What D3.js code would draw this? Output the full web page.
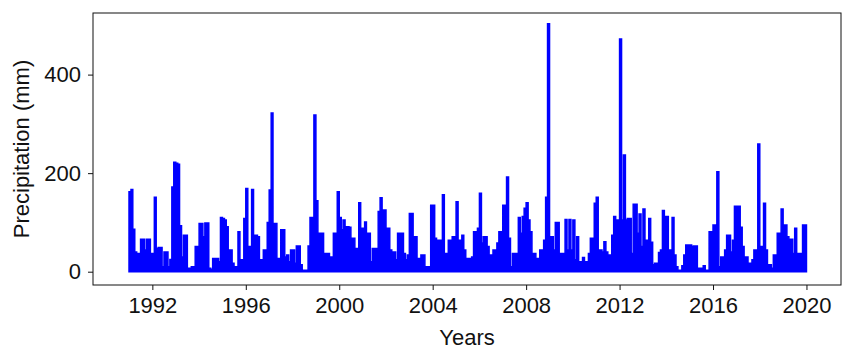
<!DOCTYPE html>
<html>
<head>
<meta charset="utf-8">
<script src="https://cdn.jsdelivr.net/npm/d3@7"></script>
<style>
  html, body { margin: 0; padding: 0; background: #fff; }
  svg text { font-family: "Liberation Sans", Arial, sans-serif; }
</style>
</head>
<body>
<div id="chart"></div>
<script>
// monthly precipitation (mm), Jan..Dec
const y1991 = [162, 167, 86, 40, 37, 37, 66, 66, 44, 66, 66, 37];
const y1992 = [37, 151, 47, 49, 49, 10, 40, 40, 10, 25, 172, 222];
const y1993 = [220, 218, 93, 30, 74, 74, 7, 7, 10, 10, 51, 51];
const y1994 = [98, 98, 71, 99, 99, 7, 5, 27, 27, 27, 20, 110];
const y1995 = [108, 105, 91, 44, 44, 17, 10, 10, 81, 24, 24, 108];
const y1996 = [169, 51, 51, 167, 74, 74, 71, 24, 24, 44, 44, 100];
const y1997 = [166, 322, 98, 98, 27, 27, 85, 85, 30, 34, 20, 44];
const y1998 = [44, 17, 52, 52, 14, 3, 3, 3, 52, 110, 110, 318];
const y1999 = [144, 78, 78, 78, 37, 37, 37, 30, 30, 78, 78, 162];
const y2000 = [110, 85, 105, 91, 91, 90, 68, 68, 47, 47, 140, 88];
const y2001 = [88, 101, 78, 78, 20, 47, 47, 47, 122, 150, 125, 125];
const y2002 = [88, 88, 44, 40, 40, 24, 78, 78, 78, 37, 24, 34];
const y2003 = [118, 118, 71, 71, 27, 27, 34, 34, 10, 10, 10, 135];
const y2004 = [135, 68, 64, 64, 64, 156, 37, 37, 64, 64, 71, 71];
const y2005 = [142, 64, 64, 74, 44, 27, 27, 27, 30, 81, 81, 88];
const y2006 = [159, 58, 71, 71, 51, 34, 34, 44, 44, 58, 81, 81];
const y2007 = [135, 135, 192, 68, 10, 37, 37, 37, 110, 78, 112, 129];
const y2008 = [140, 105, 81, 37, 37, 27, 27, 44, 44, 64, 151, 503];
const y2009 = [71, 71, 44, 100, 100, 37, 37, 37, 106, 44, 106, 44];
const y2010 = [105, 24, 71, 20, 20, 29, 20, 20, 37, 68, 68, 139];
const y2011 = [151, 44, 44, 40, 61, 40, 34, 34, 74, 112, 105, 105];
const y2012 = [472, 105, 237, 105, 108, 108, 37, 137, 137, 78, 117, 51];
const y2013 = [127, 64, 64, 108, 60, 14, 17, 17, 39, 44, 124, 112];
const y2014 = [112, 44, 44, 110, 34, 10, 3, 3, 12, 34, 54, 54];
const y2015 = [54, 51, 52, 52, 7, 7, 7, 12, 3, 3, 81, 81];
const y2016 = [95, 95, 203, 10, 30, 30, 44, 74, 74, 40, 64, 133];
const y2017 = [133, 133, 90, 51, 30, 30, 17, 17, 24, 44, 44, 259];
const y2018 = [51, 51, 139, 44, 14, 14, 7, 34, 34, 78, 78, 127];
const y2019 = [95, 95, 71, 66, 66, 37, 88, 37, 37, 37, 95, 95];

const years = d3.range(1991, 2020);
const monthly = [y1991, y1992, y1993, y1994, y1995, y1996, y1997, y1998, y1999, y2000,
                 y2001, y2002, y2003, y2004, y2005, y2006, y2007, y2008, y2009, y2010,
                 y2011, y2012, y2013, y2014, y2015, y2016, y2017, y2018, y2019];

const yTicks = [0, 200, 400];
const xTickYears = [1992, 1996, 2000, 2004, 2008, 2012, 2016, 2020];

(function(){
    const width = 850;
    const height = 362;
    const margin = {top: 13, right: 9, bottom: 77, left: 93};

    const svg = d3.select("#chart")
        .append("svg")
        .attr("width", width)
        .attr("height", height);

    // monthly points, plus a closing point so the last step has its width
    const series = [];
    years.forEach((yr, i) => {
        monthly[i].forEach((v, m) => series.push({date: new Date(yr, m, 1), value: v}));
    });
    series.push({date: new Date(2020, 0, 1), value: series[series.length - 1].value});

    const x = d3.scaleTime()
        .domain([new Date(1989, 5, 17), new Date(2021, 5, 24)])
        .range([margin.left, width - margin.right]);

    const y = d3.scaleLinear()
        .domain([-27, 525])
        .range([height - margin.bottom, margin.top]);

    const area = d3.area()
        .curve(d3.curveStepAfter)
        .x(d => x(d.date))
        .y0(y(0))
        .y1(d => y(d.value));

    svg.append("path")
        .datum(series)
        .attr("d", area)
        .attr("fill", "#0000ff")
        .attr("stroke", "#0000ff")
        .attr("stroke-width", 1.5);

    // axes
    const yAxis = svg.append("g")
        .attr("transform", `translate(${margin.left},0)`)
        .call(d3.axisLeft(y).tickValues(yTicks).tickSize(5).tickPadding(7));

    const xAxis = svg.append("g")
        .attr("transform", `translate(0,${height - margin.bottom})`)
        .call(d3.axisBottom(x)
            .tickValues(xTickYears.map(yr => new Date(yr, 0, 1)))
            .tickFormat(d3.timeFormat("%Y"))
            .tickSize(5).tickPadding(7));

    [xAxis, yAxis].forEach(g => {
        g.select(".domain").remove();
        g.selectAll(".tick line").attr("stroke", "#111").attr("stroke-width", 1);
        g.selectAll(".tick text").attr("fill", "#111").style("font-size", "22px");
    });

    // frame
    svg.append("rect")
        .attr("x", margin.left)
        .attr("y", margin.top)
        .attr("width", width - margin.left - margin.right)
        .attr("height", height - margin.top - margin.bottom)
        .attr("fill", "none")
        .attr("stroke", "#111")
        .attr("stroke-width", 1);

    // axis titles
    svg.append("text")
        .attr("x", (margin.left + width - margin.right) / 2)
        .attr("y", 345)
        .attr("text-anchor", "middle")
        .attr("fill", "#111")
        .style("font-size", "22px")
        .text("Years");

    svg.append("text")
        .attr("transform", `translate(29,${(margin.top + height - margin.bottom) / 2}) rotate(-90)`)
        .attr("text-anchor", "middle")
        .attr("fill", "#111")
        .style("font-size", "22px")
        .text("Precipitation (mm)");
})();
</script>
</body>
</html>
